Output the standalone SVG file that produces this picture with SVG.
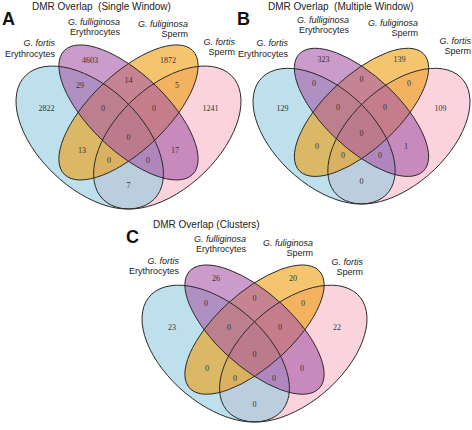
<svg xmlns="http://www.w3.org/2000/svg" xmlns:xlink="http://www.w3.org/1999/xlink" width="472" height="430" viewBox="0 0 472 430">
<style>
.title{font-family:"Liberation Sans",Arial,sans-serif;font-size:10px;fill:#222}
.letter{font-family:"Liberation Sans",Arial,sans-serif;font-size:18px;font-weight:bold;fill:#111}
.cat{font-family:"Liberation Sans",Arial,sans-serif;font-size:9px;fill:#222;text-anchor:end}
.it{font-style:italic}
.num{font-family:"Liberation Serif","Times New Roman",serif;font-size:8px;fill:#333;text-anchor:middle}
.fpink{fill:#f8b6c5;fill-opacity:0.6;stroke:none}
.fblue{fill:#91cbdf;fill-opacity:0.6;stroke:none}
.forange{fill:#ee9d0d;fill-opacity:0.6;stroke:none}
.fpurple{fill:#a758a8;fill-opacity:0.6;stroke:none}
.line{fill:none;stroke:#2a2a2a;stroke-width:1}
</style>
<defs>
<ellipse id="ePink" cx="0.65" cy="0.47" rx="0.35" ry="0.2" transform="rotate(45 0.65 0.47)" vector-effect="non-scaling-stroke"/>
<ellipse id="eBlue" cx="0.35" cy="0.47" rx="0.35" ry="0.2" transform="rotate(135 0.35 0.47)" vector-effect="non-scaling-stroke"/>
<ellipse id="eOrange" cx="0.5" cy="0.57" rx="0.35" ry="0.15" transform="rotate(45 0.5 0.57)" vector-effect="non-scaling-stroke"/>
<ellipse id="ePurple" cx="0.5" cy="0.57" rx="0.35" ry="0.15" transform="rotate(135 0.5 0.57)" vector-effect="non-scaling-stroke"/>
</defs>

<!-- Panel A -->
<g id="panelA">
<g id="A-sets" transform="matrix(258.6 0 0 -250.8 -0.8 255.4)">
<use id="A-gfortis-sperm" xlink:href="#ePink" class="fpink"/>
<use id="A-gfortis-ery" xlink:href="#eBlue" class="fblue"/>
<use id="A-gful-sperm" xlink:href="#eOrange" class="forange"/>
<use id="A-gful-ery" xlink:href="#ePurple" class="fpurple"/>
<g class="line">
<use xlink:href="#ePink"/><use xlink:href="#eBlue"/><use xlink:href="#eOrange"/><use xlink:href="#ePurple"/>
</g>
</g>
<text class="title" x="32" y="10" xml:space="preserve">DMR Overlap  (Single Window)</text>
<text class="letter" x="2" y="25">A</text>
<text class="cat"><tspan class="it" x="55" y="46">G. fortis</tspan><tspan x="55" y="57">Erythrocytes</tspan></text>
<text class="cat"><tspan class="it" x="120" y="25">G. fulliginosa</tspan><tspan x="120" y="35">Erythrocytes</tspan></text>
<text class="cat"><tspan class="it" x="188" y="27">G. fuliginosa</tspan><tspan x="188" y="37">Sperm</tspan></text>
<text class="cat"><tspan class="it" x="235" y="45">G. fortis</tspan><tspan x="235" y="55">Sperm</tspan></text>
<g class="num">
<text x="46.5" y="111">2822</text><text x="90" y="63">4603</text><text x="168" y="63">1872</text><text x="210.5" y="111">1241</text>
<text x="80" y="88">29</text><text x="128.5" y="83">14</text><text x="177" y="88">5</text>
<text x="103" y="111">0</text><text x="154" y="111">0</text><text x="128.5" y="140">0</text>
<text x="82" y="153">13</text><text x="175" y="153">17</text>
<text x="109" y="163">0</text><text x="148" y="163">0</text><text x="128.5" y="188">7</text>
</g>
</g>

<!-- Panel B -->
<g id="panelB">
<g id="B-sets" transform="matrix(249.4 0 0 -238 236.8 248)">
<use id="B-gfortis-sperm" xlink:href="#ePink" class="fpink"/>
<use id="B-gfortis-ery" xlink:href="#eBlue" class="fblue"/>
<use id="B-gful-sperm" xlink:href="#eOrange" class="forange"/>
<use id="B-gful-ery" xlink:href="#ePurple" class="fpurple"/>
<g class="line">
<use xlink:href="#ePink"/><use xlink:href="#eBlue"/><use xlink:href="#eOrange"/><use xlink:href="#ePurple"/>
</g>
</g>
<text class="title" x="268" y="10" xml:space="preserve">DMR Overlap  (Multiple Window)</text>
<text class="letter" x="237" y="25">B</text>
<text class="cat"><tspan class="it" x="288" y="46">G. fortis</tspan><tspan x="288" y="57">Erythrocytes</tspan></text>
<text class="cat"><tspan class="it" x="349" y="23">G. fulliginosa</tspan><tspan x="349" y="33">Erythrocytes</tspan></text>
<text class="cat"><tspan class="it" x="418" y="26">G. fuliginosa</tspan><tspan x="418" y="36">Sperm</tspan></text>
<text class="cat"><tspan class="it" x="471" y="44">G. fortis</tspan><tspan x="471" y="54">Sperm</tspan></text>
<g class="num">
<text x="282.5" y="111">129</text><text x="323.5" y="62">323</text><text x="399.5" y="62">139</text><text x="440.5" y="111">109</text>
<text x="314" y="86">0</text><text x="361.5" y="82">0</text><text x="409" y="86">0</text>
<text x="338" y="110">0</text><text x="385" y="110">0</text><text x="361.5" y="136">0</text>
<text x="317" y="149">0</text><text x="406" y="149">1</text>
<text x="343" y="158">0</text><text x="380" y="158">0</text><text x="361.5" y="184">0</text>
</g>
</g>

<!-- Panel C -->
<g id="panelC">
<g id="C-sets" transform="matrix(258.6 0 0 -240 125.2 466.4)">
<use id="C-gfortis-sperm" xlink:href="#ePink" class="fpink"/>
<use id="C-gfortis-ery" xlink:href="#eBlue" class="fblue"/>
<use id="C-gful-sperm" xlink:href="#eOrange" class="forange"/>
<use id="C-gful-ery" xlink:href="#ePurple" class="fpurple"/>
<g class="line">
<use xlink:href="#ePink"/><use xlink:href="#eBlue"/><use xlink:href="#eOrange"/><use xlink:href="#ePurple"/>
</g>
</g>
<text class="title" x="153" y="228">DMR Overlap (Clusters)</text>
<text class="letter" x="126" y="243">C</text>
<text class="cat"><tspan class="it" x="179" y="264">G. fortis</tspan><tspan x="179" y="274">Erythrocytes</tspan></text>
<text class="cat"><tspan class="it" x="246" y="242">G. fulliginosa</tspan><tspan x="246" y="252">Erythrocytes</tspan></text>
<text class="cat"><tspan class="it" x="313" y="246">G. fuliginosa</tspan><tspan x="313" y="256">Sperm</tspan></text>
<text class="cat"><tspan class="it" x="363" y="265">G. fortis</tspan><tspan x="363" y="275">Sperm</tspan></text>
<g class="num">
<text x="172" y="330">23</text><text x="216" y="281">26</text><text x="293" y="281">20</text><text x="337" y="330">22</text>
<text x="206" y="306">0</text><text x="254.5" y="301">0</text><text x="303" y="306">0</text>
<text x="229" y="330">0</text><text x="280" y="330">0</text><text x="254.5" y="357">0</text>
<text x="207" y="371">0</text><text x="302" y="371">0</text>
<text x="235" y="381">0</text><text x="274" y="381">0</text><text x="254.5" y="407">0</text>
</g>
</g>
</svg>
